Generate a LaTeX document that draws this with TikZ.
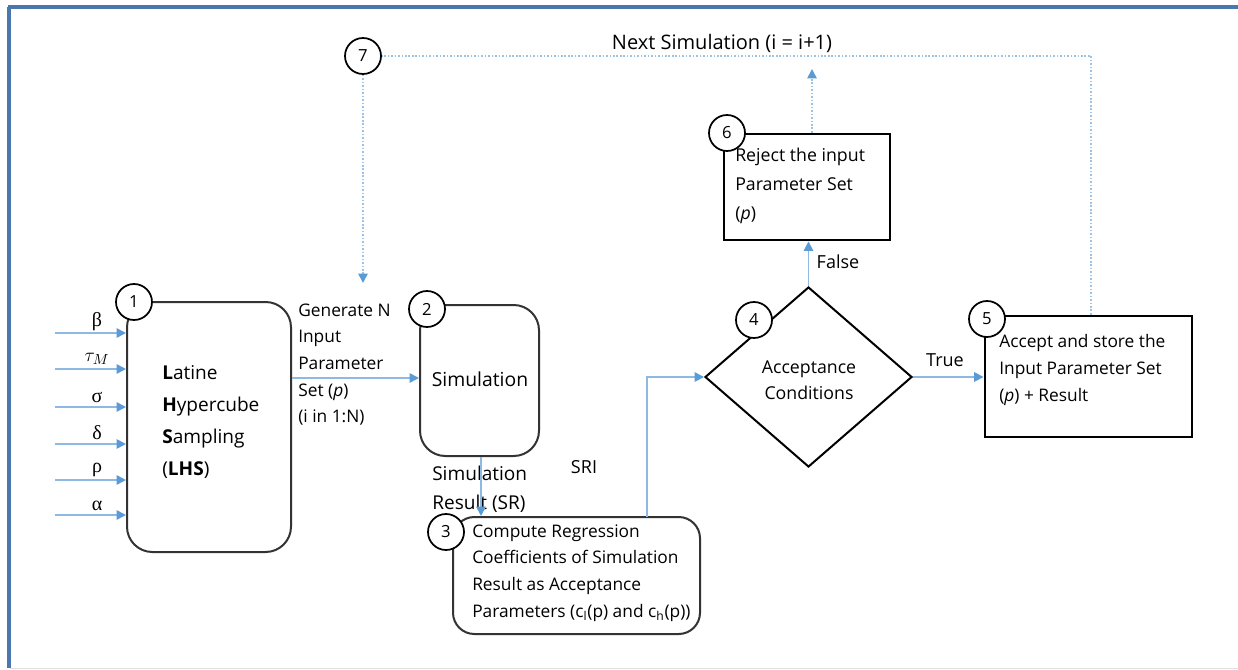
\documentclass[tikz,border=0pt]{standalone}
\usepackage{fontspec}
\setmainfont{Open Sans}
\newfontfamily\greekfont{Liberation Serif}
\usetikzlibrary{shapes.geometric,arrows.meta,calc}
\definecolor{frameblue}{HTML}{4A78AE}
\definecolor{lineblue}{HTML}{8DB9E4}
\definecolor{tipblue}{HTML}{5B9BD5}
\definecolor{dotblue}{HTML}{9DC3E6}
\tikzset{
  rbox/.style={draw=black!80, line width=1.5pt, rounded corners=19pt, inner sep=0pt},
  sbox/.style={draw=black, line width=2.2pt, inner sep=0pt},
  numc/.style={circle, draw=black, line width=1.3pt, fill=white, minimum size=27pt, inner sep=0pt, font=\fontsize{12.5}{14}\selectfont},
  conn/.style={draw=lineblue, line width=1.3pt, -{Triangle[length=7pt,width=7pt,color=tipblue]}},
  dotline/.style={draw=dotblue, line width=1.3pt, dash pattern=on 1.2pt off 1.4pt},
  dotarrow/.style={dotline, -{Triangle[length=7pt,width=7pt,color=tipblue]}},
  txt/.style={align=left, inner sep=0pt, font=\fontsize{13}{20}\selectfont},
  ctxt/.style={align=center, inner sep=0pt, font=\fontsize{13}{20}\selectfont},
  glab/.style={inner sep=0pt, font=\greekfont\fontsize{15}{16}\selectfont},
}
\begin{document}
\begin{tikzpicture}[x=0.75pt,y=-0.75pt]
\useasboundingbox (0,0) rectangle (1238,670);
% frame
\draw[frameblue, line width=2.4pt] (8,7) -- (1238,7);
\draw[frameblue, line width=2.4pt] (9,7) -- (9,668);
\draw[black!12, line width=1pt] (10,668.5) -- (1238,668.5);

% boxes
\node[rbox, minimum width=123pt, minimum height=187.5pt] (box1) at (209,427) {};
\node[rbox, minimum width=89.25pt, minimum height=113.25pt] (box2) at (479.5,380.5) {};
\node[rbox, rounded corners=16pt, minimum width=185.25pt, minimum height=87.75pt] (box3) at (576.5,575.5) {};
\node[diamond, draw=black, line width=1.5pt, inner sep=0pt, minimum width=155.25pt, minimum height=135pt] (dia) at (808.5,377) {};
\node[sbox, minimum width=155.25pt, minimum height=90.75pt] (box5) at (1088.5,376.5) {};
\node[sbox, minimum width=124.5pt, minimum height=79.5pt] (box6) at (807,187) {};

% texts
\node[txt, anchor=west, font=\fontsize{14.3}{24}\selectfont] (t1) at (162,422) {\textbf{L}atine\\\textbf{H}ypercube\\\textbf{S}ampling\\(\textbf{LHS})};
\node[txt, anchor=west] (tgen) at (298,364.5) {Generate N\\Input\\Parameter\\Set (\textit{p})\\(i in 1:N)};
\node[ctxt, font=\fontsize{14.5}{20}\selectfont] (t2) at (480,379) {Simulation};
\node[txt, anchor=west, font=\fontsize{14.3}{22}\selectfont] (tsr) at (432,489) {Simulation\\Result (SR)};
\node[ctxt, font=\fontsize{13.5}{20}\selectfont] (tsri) at (584,467) {SRI};
\node[txt, anchor=west] (t3) at (472,573) {Compute Regression\\Coefficients of Simulation\\Result as Acceptance\\Parameters (c\textsubscript{l}(p) and c\textsubscript{h}(p))};
\node[ctxt, font=\fontsize{13.3}{19.5}\selectfont] (t4) at (809,380) {Acceptance\\Conditions};
\node[ctxt, font=\fontsize{13.5}{20}\selectfont] (ttrue) at (945,360) {True};
\node[ctxt, font=\fontsize{13.5}{20}\selectfont] (tfalse) at (838,262) {False};
\node[txt, anchor=west, font=\fontsize{13.3}{22}\selectfont] (t6) at (735,186) {Reject the input\\Parameter Set\\(\textit{p})};
\node[txt, anchor=west] (t5) at (999,370) {Accept and store the\\Input Parameter Set\\(\textit{p}) + Result};
\node[ctxt, font=\fontsize{15}{18}\selectfont] (tnext) at (722,43) {Next Simulation (i = i+1)};

% input arrows
\foreach \y/\lab/\ly [count=\i] in {333/β/322, 369/{$\tau_M$}/359, 407/σ/397, 444/δ/433, 480/ρ/470, 515/α/506}{
  \coordinate (in\i) at (55,\y);
  \draw[conn] (in\i) -- (in\i -| box1.west);
  \node[glab] (g\i) at (97,\ly) {\lab};
}

% connectors
\draw[conn] (box1.east |- 0,378) -- (box2.west |- 0,378);
\draw[conn] (box2.south -| 481,0) -- (box3.north -| 481,0);
\coordinate (up3) at (647,517);
\draw[conn] (up3) |- (dia.west);
\draw[conn] (dia.east) -- (dia.east -| box5.west);
\draw[conn] (dia.north) -- (dia.north |- box6.south);

% dotted loop
\coordinate (uptip) at (812,69);
\coordinate (loopc) at (1091,56);
\coordinate (downtip) at (363,283);
\node[numc] (c7) at (363,56) {7};
\draw[dotarrow] (box6.north -| uptip) -- (uptip);
\draw[dotline] (box5.north -| loopc) -- (loopc) -- (c7.east);
\draw[dotarrow] (c7.south) -- (downtip);

% number circles
\node[numc] (c1) at (134,302) {1};
\node[numc] (c2) at (427,309) {2};
\node[numc] (c3) at (446,532) {3};
\node[numc] (c4) at (754,320) {4};
\node[numc] (c5) at (987,319) {5};
\node[numc] (c6) at (727,133) {6};
\end{tikzpicture}
\end{document}
